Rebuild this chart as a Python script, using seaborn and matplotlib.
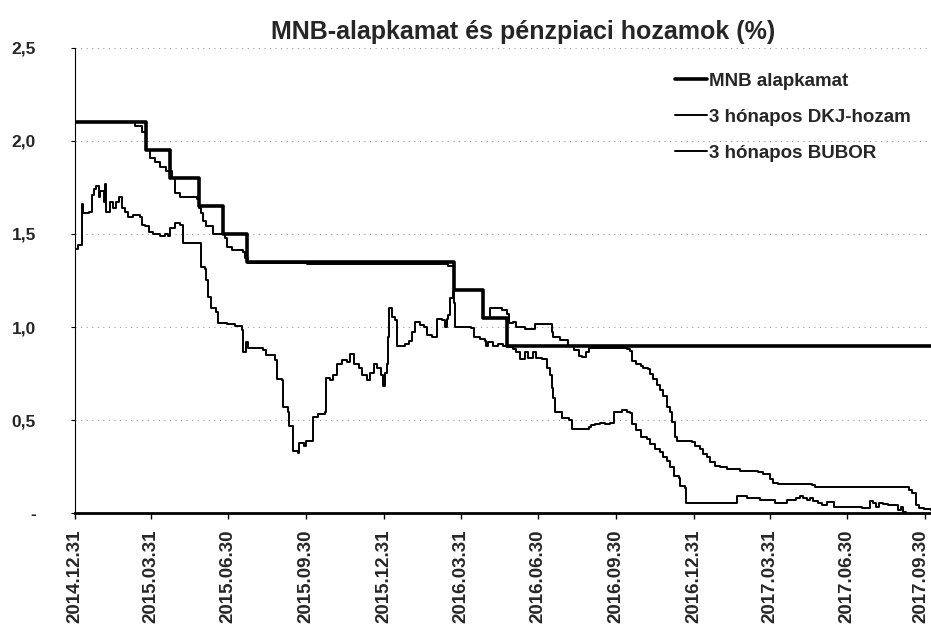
import pandas as pd
import matplotlib.pyplot as plt
import matplotlib.transforms as mtransforms
import seaborn as sns

sns.set_theme(style="white")
plt.rcParams['font.family'] = ['Liberation Sans', 'DejaVu Sans']
plt.rcParams['font.weight'] = 'bold'

# values (%)
mnb_dates = ["2014-12-31", "2015-03-25", "2015-04-22", "2015-05-27", "2015-06-24",
             "2015-07-22", "2016-03-23", "2016-04-26", "2016-05-24", "2017-10-07"]
mnb_rate = [2.10, 1.95, 1.80, 1.65, 1.50, 1.35, 1.20, 1.05, 0.90, 0.90]

bubor_dates = ["2014-12-31", "2015-03-12", "2015-03-20", "2015-03-25", "2015-03-30",
               "2015-04-04", "2015-04-10", "2015-04-18", "2015-04-24", "2015-04-28",
               "2015-05-04", "2015-05-24", "2015-05-27", "2015-05-29", "2015-05-31",
               "2015-06-04", "2015-06-12", "2015-06-24", "2015-06-26", "2015-06-28",
               "2015-07-04", "2015-07-17", "2015-07-20", "2015-07-23", "2015-10-01",
               "2016-01-15", "2016-03-15", "2016-03-23", "2016-04-26", "2016-05-04",
               "2016-05-18", "2016-05-24", "2016-05-26", "2016-05-31", "2016-06-04",
               "2016-06-14", "2016-06-26", "2016-07-13", "2016-07-16", "2016-07-18",
               "2016-07-26", "2016-08-04", "2016-08-11", "2016-08-17", "2016-08-21",
               "2016-08-25", "2016-08-29", "2016-10-11", "2016-10-13", "2016-10-17",
               "2016-10-19", "2016-10-23", "2016-10-29", "2016-11-01", "2016-11-07",
               "2016-11-09", "2016-11-13", "2016-11-17", "2016-11-21", "2016-11-25",
               "2016-11-29", "2016-12-03", "2016-12-05", "2016-12-09", "2016-12-11",
               "2016-12-29", "2017-01-01", "2017-01-07", "2017-01-11", "2017-01-15",
               "2017-01-19", "2017-01-25", "2017-01-31", "2017-02-08", "2017-02-24",
               "2017-03-17", "2017-03-23", "2017-03-31", "2017-04-03", "2017-04-09",
               "2017-05-19", "2017-05-23", "2017-07-21", "2017-09-09", "2017-09-11",
               "2017-09-15", "2017-09-19", "2017-09-23", "2017-09-29", "2017-10-07"]
bubor_rate = [2.10, 2.08, 2.05, 1.95, 1.91,
              1.885, 1.86, 1.84, 1.80, 1.72,
              1.70, 1.69, 1.64, 1.61, 1.57,
              1.54, 1.50, 1.50, 1.48, 1.43,
              1.415, 1.405, 1.37, 1.345, 1.34,
              1.34, 1.33, 1.20, 1.05, 1.10,
              1.09, 1.07, 1.02, 1.025, 1.00,
              0.99, 1.015, 1.015, 0.975, 0.945,
              0.93, 0.90, 0.875, 0.846, 0.837,
              0.864, 0.89, 0.89, 0.88, 0.873,
              0.82, 0.80, 0.79, 0.78, 0.773,
              0.746, 0.72, 0.69, 0.664, 0.628,
              0.573, 0.546, 0.49, 0.41, 0.39,
              0.382, 0.364, 0.346, 0.318, 0.30,
              0.273, 0.255, 0.246, 0.237, 0.227,
              0.224, 0.209, 0.182, 0.164, 0.155,
              0.151, 0.142, 0.14, 0.14, 0.127,
              0.109, 0.045, 0.031, 0.024, 0.018]

dkj_dates = ["2014-12-31", "2015-01-04", "2015-01-08", "2015-01-10", "2015-01-16",
             "2015-01-20", "2015-01-22", "2015-01-25", "2015-01-28", "2015-01-30",
             "2015-02-03", "2015-02-04", "2015-02-06", "2015-02-10", "2015-02-14",
             "2015-02-18", "2015-02-21", "2015-02-24", "2015-02-28", "2015-03-04",
             "2015-03-10", "2015-03-18", "2015-03-20", "2015-03-24", "2015-03-28",
             "2015-04-02", "2015-04-10", "2015-04-16", "2015-04-20", "2015-04-22",
             "2015-04-28", "2015-05-04", "2015-05-08", "2015-05-25", "2015-05-29",
             "2015-06-02", "2015-06-04", "2015-06-06", "2015-06-10", "2015-06-16",
             "2015-06-18", "2015-06-28", "2015-07-08", "2015-07-16", "2015-07-17",
             "2015-07-21", "2015-07-23", "2015-08-10", "2015-08-14", "2015-08-24",
             "2015-08-26", "2015-09-01", "2015-09-03", "2015-09-08", "2015-09-10",
             "2015-09-14", "2015-09-15", "2015-09-20", "2015-09-22", "2015-09-28",
             "2015-09-30", "2015-10-06", "2015-10-08", "2015-10-14", "2015-10-22",
             "2015-10-23", "2015-10-28", "2015-11-01", "2015-11-05", "2015-11-11",
             "2015-11-17", "2015-11-21", "2015-11-25", "2015-12-01", "2015-12-05",
             "2015-12-11", "2015-12-15", "2015-12-19", "2015-12-23", "2015-12-27",
             "2015-12-30", "2016-01-01", "2016-01-03", "2016-01-05", "2016-01-06",
             "2016-01-09", "2016-01-13", "2016-01-15", "2016-01-21", "2016-01-25",
             "2016-01-29", "2016-02-02", "2016-02-06", "2016-02-12", "2016-02-16",
             "2016-02-20", "2016-02-26", "2016-03-02", "2016-03-08", "2016-03-12",
             "2016-03-14", "2016-03-16", "2016-03-18", "2016-03-21", "2016-03-23",
             "2016-03-24", "2016-04-12", "2016-04-15", "2016-04-22", "2016-04-28",
             "2016-04-30", "2016-05-02", "2016-05-08", "2016-05-14", "2016-05-20",
             "2016-05-24", "2016-05-31", "2016-06-04", "2016-06-08", "2016-06-14",
             "2016-06-18", "2016-06-24", "2016-06-28", "2016-07-04", "2016-07-10",
             "2016-07-14", "2016-07-16", "2016-07-18", "2016-07-20", "2016-07-28",
             "2016-08-06", "2016-08-09", "2016-08-29", "2016-09-01", "2016-09-05",
             "2016-09-11", "2016-09-17", "2016-09-23", "2016-09-28", "2016-10-07",
             "2016-10-13", "2016-10-17", "2016-10-19", "2016-10-23", "2016-10-29",
             "2016-11-05", "2016-11-09", "2016-11-15", "2016-11-21", "2016-11-25",
             "2016-11-29", "2016-12-03", "2016-12-07", "2016-12-13", "2016-12-15",
             "2016-12-21", "2016-12-22", "2017-02-20", "2017-02-24", "2017-03-04",
             "2017-03-19", "2017-04-06", "2017-04-20", "2017-05-01", "2017-05-05",
             "2017-05-09", "2017-05-13", "2017-05-17", "2017-05-21", "2017-05-27",
             "2017-05-31", "2017-06-06", "2017-06-15", "2017-07-17", "2017-07-27",
             "2017-07-31", "2017-08-03", "2017-08-07", "2017-08-11", "2017-08-17",
             "2017-08-25", "2017-08-29", "2017-09-02", "2017-09-04", "2017-09-07",
             "2017-09-09"]
dkj_yield = [1.42, 1.44, 1.66, 1.61, 1.62,
             1.71, 1.74, 1.76, 1.70, 1.73,
             1.67, 1.77, 1.62, 1.67, 1.64,
             1.67, 1.70, 1.64, 1.62, 1.59,
             1.60, 1.59, 1.55, 1.54, 1.51,
             1.50, 1.49, 1.50, 1.49, 1.53,
             1.56, 1.55, 1.45, 1.45, 1.32,
             1.31, 1.255, 1.16, 1.10, 1.08,
             1.02, 1.016, 1.004, 0.985, 0.868,
             0.922, 0.886, 0.877, 0.85, 0.823,
             0.723, 0.714, 0.57, 0.543, 0.47,
             0.452, 0.334, 0.326, 0.38, 0.361,
             0.389, 0.389, 0.515, 0.533, 0.546,
             0.727, 0.718, 0.745, 0.80, 0.822,
             0.815, 0.858, 0.80, 0.782, 0.745,
             0.718, 0.755, 0.80, 0.782, 0.745,
             0.682, 0.755, 0.80, 0.945, 1.10,
             1.055, 1.036, 0.90, 0.90, 0.909,
             0.927, 0.973, 1.027, 1.009, 1.0,
             0.955, 0.945, 1.045, 1.036, 1.0,
             1.045, 1.064, 1.154, 1.191, 1.127,
             1.0, 0.996, 0.945, 0.936, 0.927,
             0.90, 0.918, 0.90, 0.909, 0.90,
             0.891, 0.882, 0.864, 0.827, 0.864,
             0.836, 0.864, 0.836, 0.827, 0.782,
             0.745, 0.673, 0.618, 0.546, 0.51,
             0.50, 0.455, 0.464, 0.473, 0.482,
             0.486, 0.482, 0.486, 0.546, 0.555,
             0.546, 0.537, 0.482, 0.446, 0.41,
             0.40, 0.373, 0.346, 0.328, 0.30,
             0.282, 0.246, 0.20, 0.19, 0.146,
             0.136, 0.055, 0.095, 0.091, 0.082,
             0.073, 0.055, 0.073, 0.082, 0.091,
             0.082, 0.073, 0.082, 0.064, 0.055,
             0.045, 0.06, 0.036, 0.027, 0.064,
             0.055, 0.036, 0.055, 0.049, 0.045,
             0.042, 0.018, 0.036, 0.009, -0.018,
             -0.03]

series_names = ["MNB alapkamat", "3 hónapos DKJ-hozam", "3 hónapos BUBOR"]
x_ticks = ["2014.12.31", "2015.03.31", "2015.06.30", "2015.09.30", "2015.12.31",
           "2016.03.31", "2016.06.30", "2016.09.30", "2016.12.31", "2017.03.31",
           "2017.06.30", "2017.09.30"]
y_ticks = [0, 0.5, 1.0, 1.5, 2.0, 2.5]
y_labels = ["-", "0,5", "1,0", "1,5", "2,0", "2,5"]

fig = plt.figure(figsize=(9.31, 6.25), dpi=100)
ax = fig.add_axes([75 / 931, 0.1787, 856 / 931, 0.745])

# thin lines first, base rate on top
sns.lineplot(x=pd.to_datetime(dkj_dates), y=dkj_yield, ax=ax, color="black",
             linewidth=1.4, drawstyle="steps-post")
sns.lineplot(x=pd.to_datetime(bubor_dates), y=bubor_rate, ax=ax, color="black",
             linewidth=1.4, drawstyle="steps-post")
sns.lineplot(x=pd.to_datetime(mnb_dates), y=mnb_rate, ax=ax, color="black",
             linewidth=2.6, drawstyle="steps-post")
dkj_line, bubor_line, mnb_line = ax.lines[:3]

ax.set_xlim(pd.Timestamp("2014-12-31"), pd.Timestamp("2017-10-07"))
ax.set_ylim(0, 2.5)
ax.set_xlabel("")
ax.set_ylabel("")

ax.set_xticks(pd.to_datetime(x_ticks, format="%Y.%m.%d"))
ax.set_xticklabels(x_ticks, rotation=90, fontsize=13.5, fontweight="bold")
ax.set_yticks(y_ticks)
ax.set_yticklabels(y_labels, fontsize=12.5, fontweight="bold")
ax.tick_params(axis="x", bottom=True, length=4, width=1, pad=8, color="black")
ax.tick_params(axis="y", left=True, length=3, width=0.8, pad=25, color="black")

# keep the last date label inside the picture
last = ax.get_xticklabels()[-1]
last.set_transform(last.get_transform() +
                   mtransforms.ScaledTranslation(-4 / 100, 0, fig.dpi_scale_trans))

ax.yaxis.grid(True, color="#9a9a9a", linestyle=(0, (1, 4)), linewidth=0.8)
ax.xaxis.grid(False)
ax.set_axisbelow(True)

for side in ["top", "right"]:
    ax.spines[side].set_visible(False)
ax.spines["left"].set_color("black")
ax.spines["left"].set_linewidth(0.8)
ax.spines["bottom"].set_color("black")
ax.spines["bottom"].set_linewidth(2)

ax.legend([mnb_line, dkj_line, bubor_line], series_names, loc="upper left",
          bbox_to_anchor=(0.701, 0.946), frameon=False, borderpad=0,
          borderaxespad=0, handlelength=1.7, handletextpad=0.1,
          labelspacing=1.0, prop={"size": 13.5, "weight": "bold"})

fig.text(523 / 931, 1 - 32 / 625, "MNB-alapkamat és pénzpiaci hozamok (%)",
         ha="center", va="center", fontsize=18, fontweight="bold")

fig.savefig("out.png", dpi=100)
